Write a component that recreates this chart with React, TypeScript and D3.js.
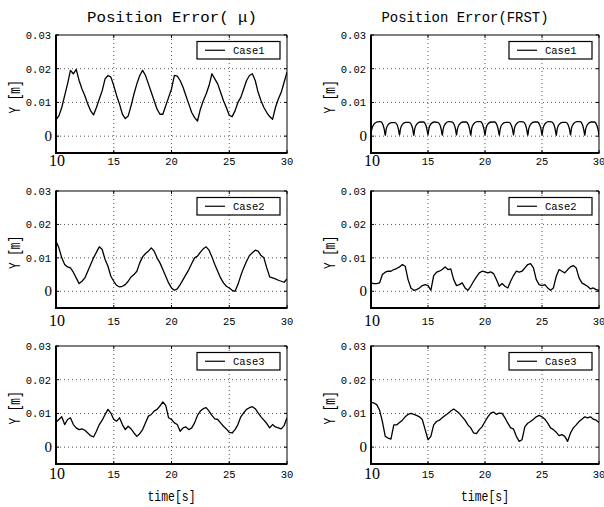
import * as d3 from 'd3';

// sample times for the regularly sampled series (s)
const sampleTimes = d3.range(0, 81).map(i => 10 + i * 0.25);

// values in 1e-3 m
const muCase1 = [
  4.8, 6.0, 8.5, 12.0, 15.5, 19.5, 18.5, 19.8, 16.5, 14.0,
  12.0, 9.5, 7.5, 6.3, 8.5, 11.0, 13.5, 17.0, 18.0, 17.5,
  15.0, 12.0, 9.5, 6.5, 5.2, 6.0, 9.0, 12.5, 15.5, 18.0,
  19.5, 18.0, 15.5, 13.0, 10.5, 8.0, 6.5, 6.5, 9.0, 11.5,
  14.0, 18.0, 17.8, 16.5, 14.5, 12.0, 9.5, 7.0, 5.5, 4.5,
  8.0, 10.5, 12.5, 15.0, 18.5, 17.0, 15.5, 13.0, 10.5, 8.5,
  6.2, 5.8, 7.5, 10.0, 11.5, 14.0, 16.5, 18.0, 18.5, 16.5,
  13.0, 10.5, 8.5, 7.0, 5.8, 5.0, 8.5, 11.0, 13.0, 16.0, 19.0,
];

const muCase2 = [
  15.0, 13.0, 10.0, 8.0, 7.3, 7.0, 5.7, 4.0, 2.3, 3.0,
  4.0, 6.0, 8.0, 10.0, 11.7, 13.3, 12.5, 9.5, 7.5, 4.5,
  3.0, 1.8, 1.3, 1.5, 2.0, 3.0, 4.3, 5.0, 6.0, 8.5,
  10.3, 11.3, 12.0, 13.0, 12.0, 10.0, 8.5, 6.5, 4.5, 2.5,
  1.0, 0.3, 0.7, 2.0, 3.5, 5.0, 6.5, 8.3, 10.0, 10.5,
  11.7, 12.7, 13.3, 12.3, 10.3, 8.0, 6.0, 4.0, 2.5, 1.5,
  1.0, 0.3, 0.0, 2.0, 4.7, 7.0, 9.0, 10.7, 11.5, 12.3,
  12.0, 10.7, 10.0, 7.0, 4.3, 4.0, 3.7, 3.3, 3.0, 2.7, 3.7,
];

const muCase3 = [
  7.4, 8.2, 9.0, 6.7, 8.2, 8.7, 6.7, 5.7, 5.2, 5.4,
  5.0, 4.2, 3.4, 3.0, 4.7, 6.7, 8.0, 9.7, 11.2, 10.1,
  8.2, 7.7, 8.7, 6.7, 5.2, 6.2, 5.4, 4.2, 3.2, 4.0,
  5.2, 7.2, 9.2, 9.7, 10.7, 11.2, 12.2, 13.4, 12.4, 8.7,
  8.2, 7.2, 6.7, 4.7, 5.7, 6.0, 5.2, 5.7, 7.2, 9.4,
  10.7, 11.4, 11.7, 10.7, 9.4, 8.4, 8.2, 7.2, 6.2, 5.4,
  4.4, 4.2, 5.2, 6.7, 9.0, 10.2, 11.2, 11.7, 12.0, 11.4,
  10.2, 9.0, 8.0, 7.0, 5.7, 6.7, 6.0, 5.7, 5.4, 6.4, 8.7,
];

const frstCase1Times = [
  10, 10.08, 10.25, 10.55, 10.85, 11.05, 11.17,
  11.25, 11.33, 11.5, 11.8, 12.1, 12.3, 12.42,
  12.5, 12.58, 12.75, 13.05, 13.35, 13.55, 13.67,
  13.75, 13.83, 14.0, 14.3, 14.6, 14.8, 14.92,
  15.0, 15.08, 15.25, 15.55, 15.85, 16.05, 16.17,
  16.25, 16.33, 16.5, 16.8, 17.1, 17.3, 17.42,
  17.5, 17.58, 17.75, 18.05, 18.35, 18.55, 18.67,
  18.75, 18.83, 19.0, 19.3, 19.6, 19.8, 19.92,
  20.0, 20.08, 20.25, 20.55, 20.85, 21.05, 21.17,
  21.25, 21.33, 21.5, 21.8, 22.1, 22.3, 22.42,
  22.5, 22.58, 22.75, 23.05, 23.35, 23.55, 23.67,
  23.75, 23.83, 24.0, 24.3, 24.6, 24.8, 24.92,
  25.0, 25.08, 25.25, 25.55, 25.85, 26.05, 26.17,
  26.25, 26.33, 26.5, 26.8, 27.1, 27.3, 27.42,
  27.5, 27.58, 27.75, 28.05, 28.35, 28.55, 28.67,
  28.75, 28.83, 29.0, 29.3, 29.6, 29.8, 29.92,
  30.0,
];

const frstCase1 = [
  0.8, 2.2, 3.5, 4.2, 4.3, 3.4, 1.9,
  0.2, 2.0, 3.4, 4.0, 4.0, 3.3, 1.8,
  0.3, 2.1, 3.5, 4.1, 4.1, 3.4, 1.9,
  0.2, 2.1, 3.5, 4.2, 4.2, 3.4, 1.8,
  0.4, 2.2, 3.6, 4.2, 4.1, 3.3, 1.8,
  0.2, 2.1, 3.6, 4.3, 4.2, 3.4, 1.9,
  0.3, 2.1, 3.5, 4.2, 4.2, 3.3, 1.8,
  0.2, 2.2, 3.6, 4.3, 4.3, 3.4, 1.9,
  0.3, 2.1, 3.6, 4.2, 4.2, 3.3, 1.8,
  0.2, 2.1, 3.5, 4.1, 4.1, 3.3, 1.9,
  0.3, 2.2, 3.6, 4.3, 4.2, 3.4, 1.8,
  0.2, 2.1, 3.5, 4.2, 4.2, 3.3, 1.9,
  0.3, 2.1, 3.6, 4.3, 4.2, 3.4, 1.8,
  0.2, 2.1, 3.5, 4.1, 4.1, 3.3, 1.9,
  0.3, 2.2, 3.6, 4.3, 4.3, 3.4, 1.8,
  0.2, 2.1, 3.5, 4.2, 4.2, 3.3, 1.9,
  0.2,
];

const frstCase2 = [
  2.5, 2.3, 2.3, 2.5, 5.0, 5.7, 6.0, 6.0, 6.5, 6.8,
  7.3, 8.0, 7.5, 3.5, 1.0, 0.3, 0.5, 1.0, 1.7, 2.0,
  1.7, 0.3, 4.7, 5.7, 6.0, 6.5, 7.3, 6.5, 6.7, 3.5,
  1.7, 2.0, 2.5, 1.0, 0.3, 1.5, 3.0, 4.3, 5.5, 6.0,
  5.8, 5.5, 5.8, 5.3, 3.5, 1.5, 2.3, 1.5, 1.0, 3.0,
  4.7, 6.0, 5.7, 6.0, 7.0, 8.0, 8.3, 7.0, 3.5, 2.0,
  1.7, 2.0, 1.0, 0.3, 1.0, 4.5, 6.5, 6.0, 5.5, 6.5,
  7.3, 7.7, 7.0, 4.0, 2.5, 2.0, 1.5, 0.7, 1.0, 0.5, 0.3,
];

const frstCase3 = [
  13.3, 13.1, 12.6, 11.0, 7.6, 3.2, 2.7, 2.4, 6.6, 6.6,
  7.3, 8.0, 9.0, 9.7, 10.0, 9.7, 9.4, 9.0, 8.2, 5.2,
  2.2, 3.2, 6.6, 7.6, 8.0, 8.7, 9.4, 10.0, 10.7, 11.3,
  10.7, 10.0, 9.0, 8.0, 6.6, 5.7, 4.2, 4.0, 5.2, 6.1,
  7.6, 9.0, 10.1, 10.4, 9.7, 10.1, 10.0, 8.7, 7.1, 5.7,
  5.4, 3.2, 1.7, 2.2, 6.1, 7.1, 7.6, 8.3, 9.0, 9.4,
  9.0, 8.3, 7.1, 5.7, 5.2, 4.4, 3.4, 3.7, 3.2, 1.7,
  4.2, 5.7, 6.6, 7.6, 8.3, 9.0, 8.7, 9.0, 8.3, 8.0, 7.3,
];

const yTicks = [0, 0.01, 0.02, 0.03];
const yTickLabels = ['0', '0.01', '0.02', '0.03'];
const xTicks = [10, 15, 20, 25, 30];
const xTickLabels = ['10', '15', '20', '25', '30'];
const titles = ['Position Error(  \u03bc)', 'Position Error(FRST)'];
const caseNames = ['Case1', 'Case2', 'Case3'];

const MONO = "'Liberation Mono', 'DejaVu Sans Mono', monospace";
const SERIF = "'Liberation Serif', 'Times New Roman', serif";

const cols = [
  { x0: 56, x1: 287, center: 172 },
  { x0: 371, x1: 599, center: 465 },
];
const rows = [
  { y0: 35, y1: 153, labelMid: 161 },
  { y0: 191, y1: 308, labelMid: 321 },
  { y0: 346, y1: 464, labelMid: 474 },
];

type Series = { times: number[]; values: number[]; smooth?: boolean };

const grid: Series[][] = [
  [{ times: sampleTimes, values: muCase1 }, { times: frstCase1Times, values: frstCase1, smooth: true }],
  [{ times: sampleTimes, values: muCase2 }, { times: sampleTimes, values: frstCase2 }],
  [{ times: sampleTimes, values: muCase3 }, { times: sampleTimes, values: frstCase3 }],
];

function Panel({ col, row, ri, ci, series }) {
  const { x0, x1 } = col;
  const { y0, y1, labelMid } = row;
  const x = d3.scaleLinear().domain([10, 30]).range([x0, x1]);
  const y = d3.scaleLinear().domain([-0.005, 0.03]).range([y1, y0]);
  const pts = series.times.map((t, i) => [t, series.values[i] / 1000]);
  const line = d3.line()
    .x(d => x(d[0]))
    .y(d => y(d[1]))
    .curve(series.smooth ? d3.curveMonotoneX : d3.curveLinear);
  const clipId = `clip-${ri}-${ci}`;
  const lx = x1 - 90;
  const ly = y0 + 6.5;
  return (
    <g>
      <clipPath id={clipId}>
        <rect x={x0} y={y0} width={x1 - x0} height={y1 - y0} />
      </clipPath>
      <rect x={x0} y={y0} width={x1 - x0} height={y1 - y0} fill="#fff" />
      {[0, 0.01, 0.02].map(v => (
        <line key={'gy' + v} x1={x0} x2={x1} y1={y(v)} y2={y(v)}
          stroke="#555" strokeWidth={1} strokeDasharray="1,3" />
      ))}
      {[15, 20, 25].map(v => (
        <line key={'gx' + v} x1={x(v)} x2={x(v)} y1={y0} y2={y1}
          stroke="#555" strokeWidth={1} strokeDasharray="1,3" />
      ))}
      <path d={line(pts)} fill="none" stroke="#000" strokeWidth={1.3}
        strokeLinejoin="round" clipPath={`url(#${clipId})`} />
      {/* frame */}
      <line x1={x0} x2={x1} y1={y0} y2={y0} stroke="#000" strokeWidth={1} />
      <line x1={x1} x2={x1} y1={y0} y2={y1} stroke="#000" strokeWidth={1} />
      <line x1={x0} x2={x0} y1={y0 - 0.5} y2={y1 + 1} stroke="#000" strokeWidth={2} />
      <line x1={x0 - 1} x2={x1 + 0.5} y1={y1} y2={y1} stroke="#000" strokeWidth={2} />
      {yTicks.map(v => (
        <g key={'ty' + v}>
          <line x1={x0} x2={x0 + 3} y1={y(v)} y2={y(v)} stroke="#000" />
          <line x1={x1} x2={x1 - 3} y1={y(v)} y2={y(v)} stroke="#000" />
        </g>
      ))}
      {xTicks.map(v => (
        <g key={'tx' + v}>
          <line x1={x(v)} x2={x(v)} y1={y1} y2={y1 - 3} stroke="#000" />
          <line x1={x(v)} x2={x(v)} y1={y0} y2={y0 + 3} stroke="#000" />
        </g>
      ))}
      {yTicks.map((v, i) => (
        v === 0
          ? <text key={'ly' + v} x={x0 - 4} y={y(v) + 5} textAnchor="end"
              fontFamily={SERIF} fontSize={15} fill="#000">{yTickLabels[i]}</text>
          : <text key={'ly' + v} x={x0 - 5} y={y(v) + 4} textAnchor="end"
              fontFamily={MONO} fontSize={10.5} fill="#000">{yTickLabels[i]}</text>
      ))}
      {xTicks.map((v, i) => (
        v === 10
          ? <text key={'lx' + v} x={x(v) + 1} y={labelMid + 5} textAnchor="middle"
              fontFamily={SERIF} fontSize={16} fill="#000">{xTickLabels[i]}</text>
          : <text key={'lx' + v} x={x(v)} y={labelMid + 4} textAnchor="middle"
              fontFamily={MONO} fontSize={10.5} fill="#000">{xTickLabels[i]}</text>
      ))}
      <text transform={`translate(${x0 - 36},${(y0 + y1) / 2 + 3}) rotate(-90)`}
        textAnchor="middle" fontFamily={MONO} fontSize={16} textLength={33}
        lengthAdjust="spacingAndGlyphs" fill="#000">Y [m]</text>
      {/* legend */}
      <rect x={lx} y={ly} width={83} height={17.5} fill="#fff" stroke="#000" strokeWidth={1.2} />
      <line x1={lx + 8} x2={lx + 28} y1={ly + 8.75} y2={ly + 8.75} stroke="#000" strokeWidth={1.2} />
      <text x={lx + 36} y={ly + 12.5} fontFamily={MONO} fontSize={10.5} fill="#000">{caseNames[ri]}</text>
      {ri === 2 && (
        <text x={(x0 + x1) / 2} y={501} textAnchor="middle" fontFamily={MONO}
          fontSize={15} textLength={48} lengthAdjust="spacingAndGlyphs" fill="#000">time[s]</text>
      )}
    </g>
  );
}

export default function App() {
  return (
    <svg width={604} height={507} viewBox="0 0 604 507"
      style={{ position: 'absolute', left: 0, top: 0, background: '#fff' }}>
      <rect width={604} height={507} fill="#fff" />
      {cols.map((c, ci) => (
        <text key={'t' + ci} x={c.center} y={22} textAnchor="middle" fontFamily={MONO}
          fontSize={15} textLength={ci === 0 ? 170 : 167} lengthAdjust="spacingAndGlyphs"
          fill="#000">{titles[ci]}</text>
      ))}
      {rows.map((r, ri) => cols.map((c, ci) => (
        <Panel key={`${ri}-${ci}`} col={c} row={r} ri={ri} ci={ci} series={grid[ri][ci]} />
      )))}
    </svg>
  );
}
